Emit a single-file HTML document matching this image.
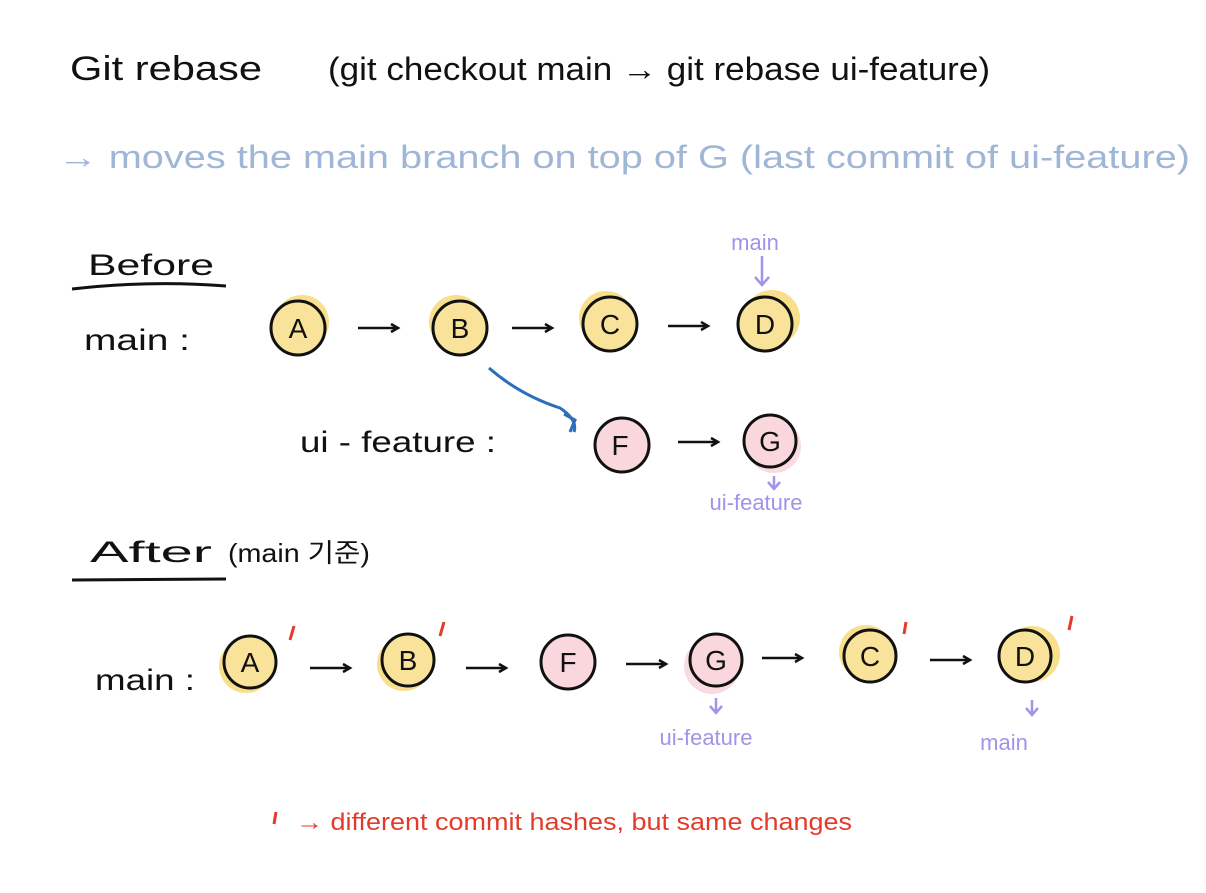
<!DOCTYPE html>
<html><head><meta charset="utf-8"><style>
html,body{margin:0;padding:0;background:#fff}
svg{display:block}
text{font-family:"Liberation Sans","Noto Sans CJK KR",sans-serif}
</style></head><body>
<svg width="1206" height="893" viewBox="0 0 1206 893">
<defs>
<marker id="ah" markerWidth="12" markerHeight="12" refX="9" refY="6" orient="auto" markerUnits="userSpaceOnUse"><path d="M2,2 L9,6 L2,10" fill="none" stroke="#111" stroke-width="2.5"/></marker>
</defs>
<g font-size="34" fill="#111">
<text x="70" y="80" textLength="192" lengthAdjust="spacingAndGlyphs">Git rebase</text>
<text x="328" y="80" font-size="32" textLength="662" lengthAdjust="spacingAndGlyphs">(git checkout main → git rebase ui-feature)</text>
</g>
<text x="58" y="168" font-size="32" fill="#9fb6d6" textLength="1132" lengthAdjust="spacingAndGlyphs">→ moves the main branch on top of G (last commit of ui-feature)</text>
<text x="88" y="275" font-size="30" fill="#111" textLength="126" lengthAdjust="spacingAndGlyphs">Before</text>
<path d="M72,289 Q150,280 226,286" stroke="#111" stroke-width="3" fill="none"/>
<text x="84" y="350" font-size="30" fill="#111" textLength="106" lengthAdjust="spacingAndGlyphs">main :</text>
<text x="300" y="452" font-size="30" fill="#111" textLength="196" lengthAdjust="spacingAndGlyphs">ui - feature :</text>
<text x="90" y="562" font-size="30" fill="#111" textLength="122" lengthAdjust="spacingAndGlyphs">After</text>
<path d="M72,580 L226,579" stroke="#111" stroke-width="3"/>
<text x="228" y="562" font-size="26" fill="#111" textLength="142" lengthAdjust="spacingAndGlyphs">(main 기준)</text>
<text x="95" y="690" font-size="30" fill="#111" textLength="100" lengthAdjust="spacingAndGlyphs">main :</text>

<g stroke="#111" stroke-width="2.5" fill="none">
<line x1="358" y1="328" x2="398" y2="328" marker-end="url(#ah)"/>
<line x1="512" y1="328" x2="552" y2="328" marker-end="url(#ah)"/>
<line x1="668" y1="326" x2="708" y2="326" marker-end="url(#ah)"/>
<line x1="678" y1="442" x2="718" y2="442" marker-end="url(#ah)"/>
<line x1="310" y1="668" x2="350" y2="668" marker-end="url(#ah)"/>
<line x1="466" y1="668" x2="506" y2="668" marker-end="url(#ah)"/>
<line x1="626" y1="664" x2="666" y2="664" marker-end="url(#ah)"/>
<line x1="762" y1="658" x2="802" y2="658" marker-end="url(#ah)"/>
<line x1="930" y1="660" x2="970" y2="660" marker-end="url(#ah)"/>
</g>
<path d="M489,368 Q520,395 560,408 Q578,420 574,432" stroke="#2a6fb8" stroke-width="3" fill="none"/>
<path d="M564,414 L575,420 L570,432" stroke="#2a6fb8" stroke-width="3" fill="none"/>

<g font-size="28" text-anchor="middle" fill="#111">
<circle cx="302" cy="322" r="27" fill="#f7df8c"/><circle cx="298" cy="328" r="27" fill="#f9e39a" stroke="#111" stroke-width="3"/><text x="298" y="338">A</text>
<circle cx="456" cy="322" r="27" fill="#f7df8c"/><circle cx="460" cy="328" r="27" fill="#f9e39a" stroke="#111" stroke-width="3"/><text x="460" y="338">B</text>
<circle cx="606" cy="318" r="27" fill="#f7df8c"/><circle cx="610" cy="324" r="27" fill="#f9e39a" stroke="#111" stroke-width="3"/><text x="610" y="334">C</text>
<circle cx="772" cy="318" r="28" fill="#f7df8c"/><circle cx="765" cy="324" r="27" fill="#f9e39a" stroke="#111" stroke-width="3"/><text x="765" y="334">D</text>
<circle cx="622" cy="445" r="27" fill="#f9d7dc" stroke="#111" stroke-width="3"/><text x="620" y="455">F</text>
<circle cx="774" cy="446" r="27" fill="#f9dbe0"/><circle cx="770" cy="441" r="26" fill="#f9d7dc" stroke="#111" stroke-width="3"/><text x="770" y="451">G</text>
<circle cx="246" cy="666" r="27" fill="#f7df8c"/><circle cx="250" cy="662" r="26" fill="#f9e39a" stroke="#111" stroke-width="3"/><text x="250" y="672">A</text>
<circle cx="404" cy="664" r="27" fill="#f7df8c"/><circle cx="408" cy="660" r="26" fill="#f9e39a" stroke="#111" stroke-width="3"/><text x="408" y="670">B</text>
<circle cx="568" cy="662" r="27" fill="#f9d7dc" stroke="#111" stroke-width="3"/><text x="568" y="672">F</text>
<circle cx="712" cy="666" r="28" fill="#f9dbe0"/><circle cx="716" cy="660" r="26" fill="#f9d7dc" stroke="#111" stroke-width="3"/><text x="716" y="670">G</text>
<circle cx="866" cy="652" r="27" fill="#f7df8c"/><circle cx="870" cy="656" r="26" fill="#f9e39a" stroke="#111" stroke-width="3"/><text x="870" y="666">C</text>
<circle cx="1032" cy="654" r="28" fill="#f7df8c"/><circle cx="1025" cy="656" r="26" fill="#f9e39a" stroke="#111" stroke-width="3"/><text x="1025" y="666">D</text>
</g>
<g stroke="#e53a2a" stroke-width="3">
<line x1="294" y1="626" x2="290" y2="640"/><line x1="444" y1="622" x2="440" y2="636"/>
<line x1="906" y1="622" x2="904" y2="634"/><line x1="1072" y1="616" x2="1069" y2="630"/>
<line x1="276" y1="812" x2="274" y2="824"/>
</g>
<text x="296" y="830" font-size="24" fill="#e53a2a" textLength="556" lengthAdjust="spacingAndGlyphs">→ different commit hashes, but same changes</text>

<g fill="#a393e8" font-size="22" text-anchor="middle">
<text x="755" y="250">main</text>
<text x="756" y="510">ui-feature</text>
<text x="706" y="745">ui-feature</text>
<text x="1004" y="750">main</text>
</g>
<g stroke="#a393e8" stroke-width="2.5" fill="none">
<path d="M762,256 L762,284 M755,277 L762,285 L769,277"/>
<path d="M774,476 L774,488 M768,482 L774,489 L780,482"/>
<path d="M716,698 L716,712 M710,706 L716,713 L722,706"/>
<path d="M1032,700 L1032,714 M1026,708 L1032,715 L1038,708"/>
</g>
</svg>
</body></html>
